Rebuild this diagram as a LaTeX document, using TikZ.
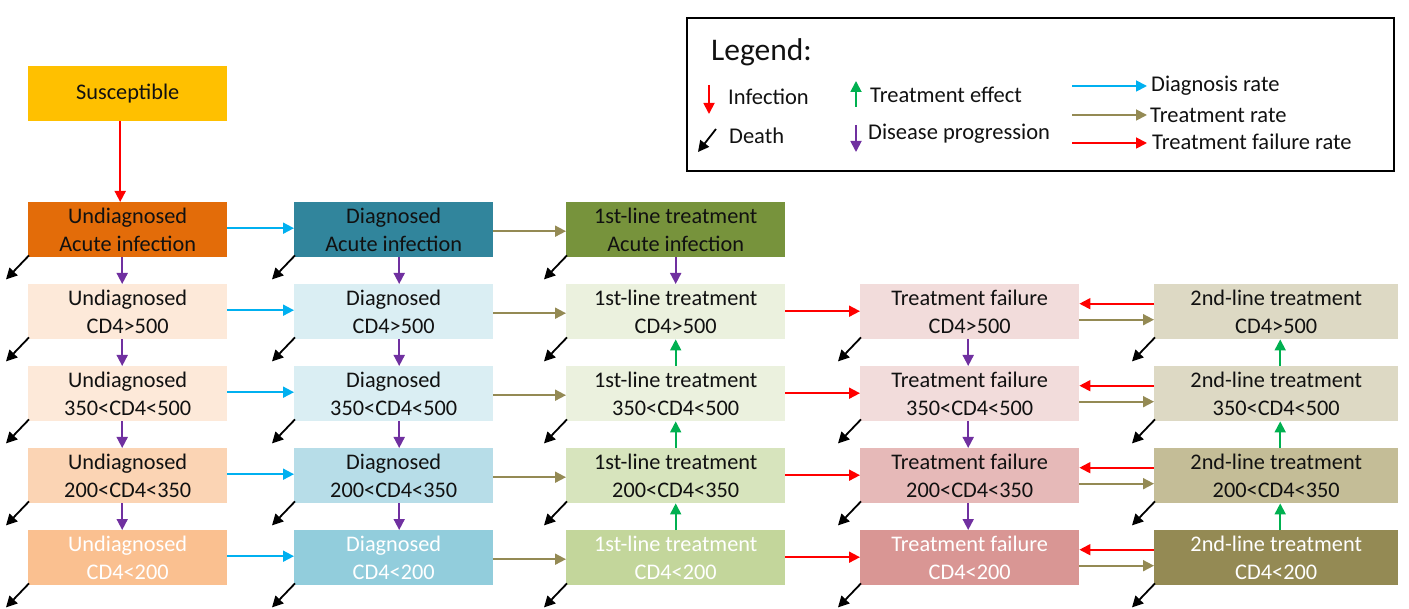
\documentclass[tikz,border=0pt]{standalone}
\usepackage{fontspec}
\setmainfont{Carlito}
\usetikzlibrary{arrows.meta}
\definecolor{susc}{HTML}{FFC000}
\definecolor{ua}{HTML}{E36C09}
\definecolor{ub}{HTML}{FDE9D9}
\definecolor{uc}{HTML}{FBD4B4}
\definecolor{ud}{HTML}{FAC090}
\definecolor{da}{HTML}{31859C}
\definecolor{db}{HTML}{DAEEF3}
\definecolor{dc}{HTML}{B7DDE8}
\definecolor{dd}{HTML}{92CDDC}
\definecolor{ta}{HTML}{77933C}
\definecolor{tb}{HTML}{EBF1DE}
\definecolor{tc}{HTML}{D7E4BD}
\definecolor{td}{HTML}{C3D69B}
\definecolor{fb}{HTML}{F2DCDB}
\definecolor{fc}{HTML}{E6B9B8}
\definecolor{fd}{HTML}{D99694}
\definecolor{sb}{HTML}{DDD9C4}
\definecolor{sc}{HTML}{C4BD97}
\definecolor{sd}{HTML}{948A54}
\definecolor{blueA}{HTML}{00B0F0}
\definecolor{oliveA}{HTML}{948A54}
\definecolor{redA}{HTML}{FF0000}
\definecolor{purpA}{HTML}{7030A0}
\definecolor{greenA}{HTML}{00B050}
\definecolor{txt}{HTML}{111111}
\begin{document}
\begin{tikzpicture}[x=1pt,y=-1pt,
  box/.style={rectangle, inner sep=0pt, minimum height=55pt, anchor=north west,
    align=center, font=\fontsize{22.3}{28}\selectfont, text=txt},
  wbox/.style={box, text=white},
  wA/.style={minimum width=199pt},
  wB/.style={minimum width=219pt},
  wC/.style={minimum width=244pt},
  arr/.style={line width=1.8pt, -{Triangle[length=11pt,width=11pt]}},
  diag/.style={arr, draw=blueA},
  treat/.style={arr, draw=oliveA},
  fail/.style={arr, draw=redA},
  prog/.style={arr, draw=purpA},
  effect/.style={arr, draw=greenA},
  infect/.style={arr, draw=redA},
  death/.style={line width=1.8pt, draw=black, -{Triangle[length=11pt,width=11pt]}},
  legtxt/.style={anchor=west, inner sep=0pt, font=\fontsize{22.5}{26}\selectfont, text=txt}
]
\useasboundingbox (0,0) rectangle (1409,609);

% Susceptible
\node[box, wA, fill=susc] (sus) at (28,66) {Susceptible};

% Column 1: Undiagnosed
\node[box, wA, fill=ua] (u0) at (28,202) {Undiagnosed\\Acute infection};
\node[box, wA, fill=ub] (u1) at (28,284) {Undiagnosed\\CD4>500};
\node[box, wA, fill=ub] (u2) at (28,366) {Undiagnosed\\350<CD4<500};
\node[box, wA, fill=uc] (u3) at (28,448) {Undiagnosed\\200<CD4<350};
\node[wbox, wA, fill=ud] (u4) at (28,530) {Undiagnosed\\CD4<200};

% Column 2: Diagnosed
\node[box, wA, fill=da] (d0) at (294,202) {Diagnosed\\Acute infection};
\node[box, wA, fill=db] (d1) at (294,284) {Diagnosed\\CD4>500};
\node[box, wA, fill=db] (d2) at (294,366) {Diagnosed\\350<CD4<500};
\node[box, wA, fill=dc] (d3) at (294,448) {Diagnosed\\200<CD4<350};
\node[wbox, wA, fill=dd] (d4) at (294,530) {Diagnosed\\CD4<200};

% Column 3: 1st-line
\node[box, wB, fill=ta] (t0) at (566,202) {1st-line treatment\\Acute infection};
\node[box, wB, fill=tb] (t1) at (566,284) {1st-line treatment\\CD4>500};
\node[box, wB, fill=tb] (t2) at (566,366) {1st-line treatment\\350<CD4<500};
\node[box, wB, fill=tc] (t3) at (566,448) {1st-line treatment\\200<CD4<350};
\node[wbox, wB, fill=td] (t4) at (566,530) {1st-line treatment\\CD4<200};

% Column 4: Treatment failure
\node[box, wB, fill=fb] (f1) at (860,284) {Treatment failure\\CD4>500};
\node[box, wB, fill=fb] (f2) at (860,366) {Treatment failure\\350<CD4<500};
\node[box, wB, fill=fc] (f3) at (860,448) {Treatment failure\\200<CD4<350};
\node[wbox, wB, fill=fd] (f4) at (860,530) {Treatment failure\\CD4<200};

% Column 5: 2nd-line
\node[box, wC, fill=sb] (s1) at (1154,284) {2nd-line treatment\\CD4>500};
\node[box, wC, fill=sb] (s2) at (1154,366) {2nd-line treatment\\350<CD4<500};
\node[box, wC, fill=sc] (s3) at (1154,448) {2nd-line treatment\\200<CD4<350};
\node[wbox, wC, fill=sd] (s4) at (1154,530) {2nd-line treatment\\CD4<200};

% Infection
\draw[infect] ([xshift=-7.5pt]sus.south) -- ([xshift=-7.5pt]u0.north);

% Disease progression (purple, down)
\foreach \a/\b in {u0/u1,u1/u2,u2/u3,u3/u4}
  \draw[prog] ([xshift=-5.5pt]\a.south) -- ([xshift=-5.5pt]\b.north);
\foreach \a/\b in {d0/d1,d1/d2,d2/d3,d3/d4}
  \draw[prog] ([xshift=5.5pt]\a.south) -- ([xshift=5.5pt]\b.north);
\draw[prog] (t0.south) -- (t1.north);
\foreach \a/\b in {f1/f2,f2/f3,f3/f4}
  \draw[prog] ([xshift=-1.5pt]\a.south) -- ([xshift=-1.5pt]\b.north);

% Treatment effect (green, up)
\foreach \a/\b in {t2/t1,t3/t2,t4/t3}
  \draw[effect] (\a.north) -- (\b.south);
\foreach \a/\b in {s2/s1,s3/s2,s4/s3}
  \draw[effect] ([xshift=4pt]\a.north) -- ([xshift=4pt]\b.south);

% Diagnosis (blue)
\foreach \i in {0,...,4}
  \draw[diag] ([yshift=1.5pt]u\i.east) -- ([yshift=1.5pt]d\i.west);
% Treatment (olive)
\foreach \i in {0,...,4}
  \draw[treat] ([yshift=-1.5pt]d\i.east) -- ([yshift=-1.5pt]t\i.west);
% Treatment failure (red)
\foreach \i in {1,...,4}
  \draw[fail] ([yshift=0.5pt]t\i.east) -- ([yshift=0.5pt]f\i.west);
% 2nd line: failure back (red) and treatment (olive)
\foreach \i in {1,...,4}{
  \draw[fail] ([yshift=8pt]s\i.west) -- ([yshift=8pt]f\i.east);
  \draw[treat] ([yshift=-8pt]f\i.east) -- ([yshift=-8pt]s\i.west);
}

% Death arrows
\foreach \n in {u0,u1,u2,u3,u4,d0,d1,d2,d3,d4,t0,t1,t2,t3,t4,f1,f2,f3,f4,s1,s2,s3,s4}{
  \coordinate (\n-dx) at ([shift={(-22pt,-22pt)}]\n.south west);
  \draw[death] ([shift={(1pt,2pt)}]\n.south west) -- (\n-dx);
}

% Legend
\node[draw=black, line width=1.8pt, rectangle, minimum width=707pt, minimum height=153pt,
  anchor=north west, inner sep=0pt] (leg) at (686,17) {};
\node[anchor=west, inner sep=0pt, font=\fontsize{31.5}{34}\selectfont, text=txt] (legt) at (711,52) {Legend:};

\coordinate (li1) at (709,85); \coordinate (li2) at (709,114);
\draw[infect] (li1) -- (li2);
\node[legtxt] (lit) at (728,97) {Infection};

\coordinate (ld1) at (716,129); \coordinate (ld2) at (698,152);
\draw[death] (ld1) -- (ld2);
\node[legtxt] (ldt) at (729,136) {Death};

\coordinate (le1) at (856,107); \coordinate (le2) at (856,81);
\draw[effect] (le1) -- (le2);
\node[legtxt] (let) at (870,95) {Treatment effect};

\coordinate (lp1) at (856,125); \coordinate (lp2) at (856,152);
\draw[prog] (lp1) -- (lp2);
\node[legtxt] (lpt) at (868,134) {Disease progression};

\coordinate (lb1) at (1072,86); \coordinate (lb2) at (1147,86);
\draw[diag] (lb1) -- (lb2);
\node[legtxt] (lbt) at (1151,86) {Diagnosis rate};

\coordinate (lo1) at (1072,115); \coordinate (lo2) at (1147,115);
\draw[treat] (lo1) -- (lo2);
\node[legtxt] (lot) at (1150,115) {Treatment rate};

\coordinate (lr1) at (1072,143); \coordinate (lr2) at (1147,143);
\draw[fail] (lr1) -- (lr2);
\node[legtxt] (lrt) at (1152,142) {Treatment failure rate};
\end{tikzpicture}
\end{document}
